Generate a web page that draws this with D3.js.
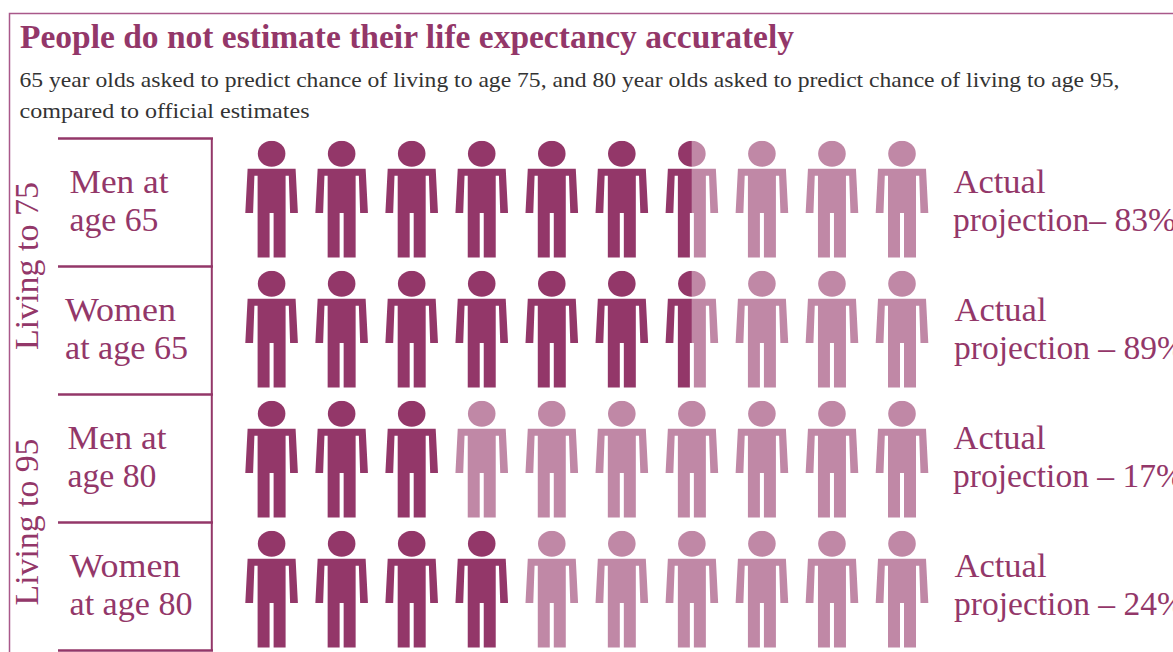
<!DOCTYPE html>
<html><head><meta charset="utf-8">
<script src="https://cdn.jsdelivr.net/npm/d3@7"></script>
<style>html,body{margin:0;padding:0;background:#fff;overflow:hidden}svg{display:block}text{font-family:"Liberation Serif",serif}</style>
</head><body><svg id="c" width="1173" height="652"></svg>
<script>
const groups = ["Living to 75","Living to 95"];
const rowLabels = [["Men at","age 65"],["Women","at age 65"],["Men at","age 80"],["Women","at age 80"]];
const actualLabels = [["Actual","projection\u2013 83%"],["Actual","projection \u2013 89%"],["Actual","projection \u2013 17%"],["Actual","projection \u2013 24%"]];
const filledPeople = [6.5,6.5,3,4];
const peopleTotal = 10;
const titleText = "People do not estimate their life expectancy accurately";
const subtitleLines = ["65 year olds asked to predict chance of living to age 75, and 80 year olds asked to predict chance of living to age 95,","compared to official estimates"];

const dark="#933769", light="#c088a6", frame="#a9588a";
const svg=d3.select("#c");
const rows=d3.range(rowLabels.length);
const x=d3.scaleLinear().domain([0,peopleTotal-1]).range([271.6,902]);
const y=d3.scaleLinear().domain([0,rows.length]).range([138.5,650.5]);
const yPerson=d3.scaleLinear().domain([0,rows.length]).range([140.8,660.8]);

svg.append("path").attr("d","M9.5,652V13.5H1173").attr("fill","none").attr("stroke",frame).attr("stroke-width",1.5);

function fit(sel,t,px,py,w,size,col,weight){
  return sel.append("text").attr("x",px).attr("y",py).attr("font-size",size).attr("fill",col)
    .attr("font-weight",weight||400).attr("textLength",w).attr("lengthAdjust","spacingAndGlyphs").text(t);
}
fit(svg,titleText,20,47.5,774,33,dark,700);
fit(svg,subtitleLines[0],19.5,87,1100,22,"#333",400);
fit(svg,subtitleLines[1],19.5,118,290,22,"#333",400);

rows.concat([rows.length]).forEach(i=>{
  svg.append("line").attr("x1",58).attr("x2",213).attr("y1",y(i)).attr("y2",y(i)).attr("stroke",dark).attr("stroke-width",2.4);
});
svg.append("line").attr("x1",211.8).attr("x2",211.8).attr("y1",y(0)).attr("y2",y(4)).attr("stroke",dark).attr("stroke-width",2);

const labelX=[69.5,65,67.5,69.5];
const labelW=[[99,89],[111,123],[99,89],[111,123]];
rowLabels.forEach((l,i)=>{
  const off=y(i)-y(0);
  l.forEach((t,j)=>fit(svg,t,labelX[i],192.5+off+j*38,labelW[i][j],34,dark));
});
const actX=[953.5,954.5,953.5,954.5];
const actW=[223,231,231,231];
actualLabels.forEach((l,i)=>{
  const off=y(i)-y(0);
  fit(svg,l[0],actX[i],192.5+off,92,34,dark);
  fit(svg,l[1],actX[i]-0.5,230.5+off,actW[i],34,dark);
});
[[38,350,168],[38,605.5,167]].forEach((p,i)=>{
  svg.append("text").attr("transform",`translate(${p[0]},${p[1]}) rotate(-90)`).attr("font-size",34).attr("fill",dark)
   .attr("textLength",p[2]).attr("lengthAdjust","spacingAndGlyphs").text(groups[i]);
});

const bodyPts=[[-24,28],[24,28],[26.3,72.3],[18.5,72.3],[17.2,35],[14,35],[14,116.7],[2,116.7],[2,72.3],[-2,72.3],[-2,116.7],[-14,116.7],[-14,35],[-17.2,35],[-18.5,72.3],[-26.3,72.3]];
function person(g){
  g.append("ellipse").attr("cx",0).attr("cy",13).attr("rx",13.8).attr("ry",13);
  g.append("path").attr("d",d3.line()(bodyPts)+"Z");
}
const defs=svg.append("defs");
rows.forEach(r=>{
  const edge=x(filledPeople[r]-0.5);
  defs.append("clipPath").attr("id","cd"+r).append("rect").attr("x",0).attr("y",0).attr("width",edge).attr("height",800);
  defs.append("clipPath").attr("id","cl"+r).append("rect").attr("x",edge).attr("y",0).attr("width",1173-edge).attr("height",800);
  const rowG=svg.append("g").attr("transform",`translate(0,${yPerson(r)})`);
  [["cl"+r,light],["cd"+r,dark]].forEach(([id,col])=>{
    const layer=rowG.append("g").attr("clip-path",`url(#${id})`).attr("fill",col);
    layer.selectAll("g").data(d3.range(peopleTotal)).join("g")
      .attr("transform",d=>`translate(${x(d)},0)`).each(function(){person(d3.select(this));});
  });
});
</script></body></html>
